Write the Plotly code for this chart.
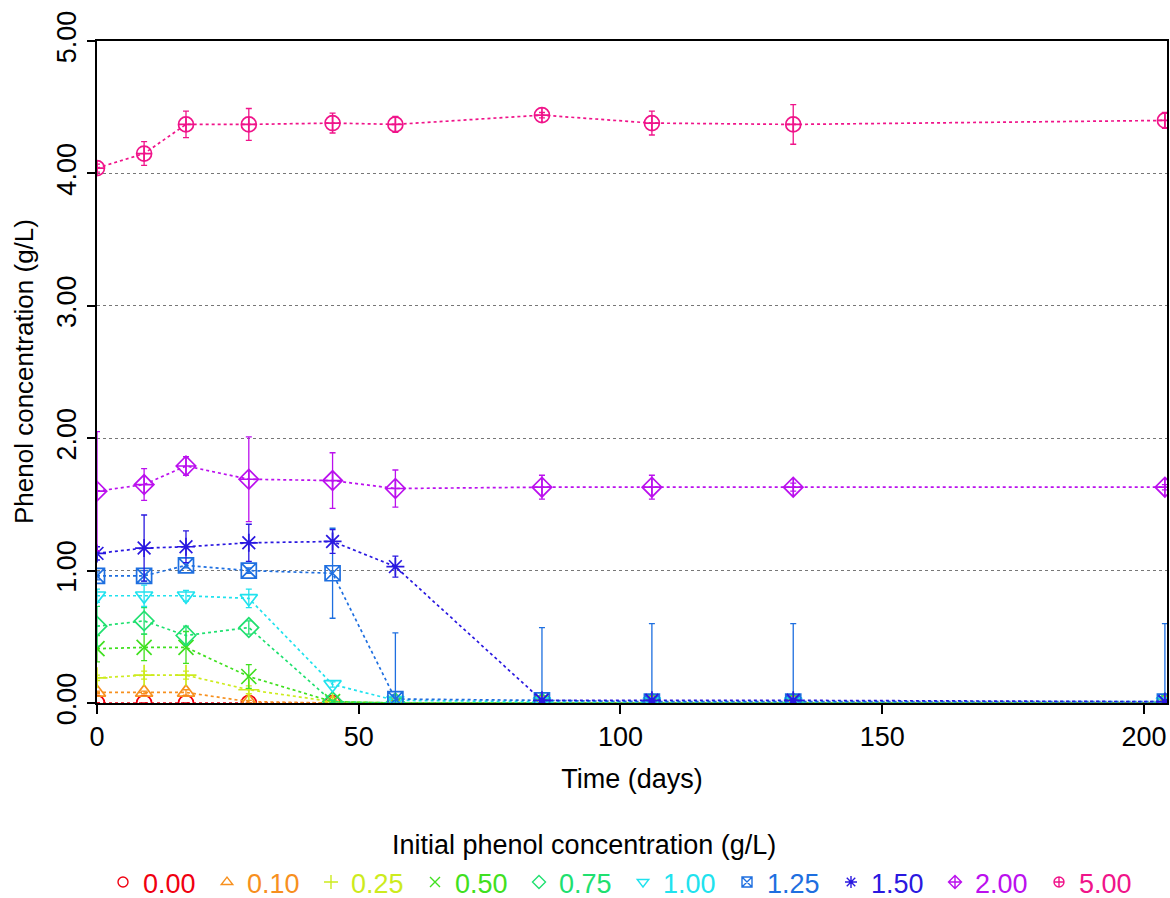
import plotly.graph_objects as go

times = [0, 9, 17, 29, 45, 57, 85, 106, 133, 204]

labels = ["0.00", "0.10", "0.25", "0.50", "0.75", "1.00", "1.25", "1.50", "2.00", "5.00"]

c000 = [0, 0, 0, 0, 0, 0, 0, 0, 0, 0]
c010 = [0.08, 0.08, 0.08, 0.01, 0, 0, 0, 0, 0, 0]
c025 = [0.19, 0.21, 0.21, 0.10, 0.01, 0, 0, 0, 0, 0]
c050 = [0.41, 0.42, 0.42, 0.20, 0.01, 0, 0, 0, 0, 0]
c075 = [0.58, 0.62, 0.51, 0.57, 0.01, 0, 0, 0, 0, 0]
c100 = [0.81, 0.81, 0.81, 0.79, 0.14, 0.02, 0.01, 0.01, 0.01, 0.01]
c125 = [0.96, 0.96, 1.04, 1.00, 0.98, 0.03, 0.02, 0.01, 0.01, 0.01]
c150 = [1.13, 1.17, 1.18, 1.21, 1.22, 1.03, 0.02, 0.02, 0.02, 0.01]
c200 = [1.60, 1.65, 1.79, 1.69, 1.68, 1.62, 1.63, 1.63, 1.63, 1.63]
c500 = [4.04, 4.15, 4.37, 4.37, 4.38, 4.37, 4.44, 4.38, 4.37, 4.40]

e000 = [0, 0, 0, 0, 0, 0, 0, 0, 0, 0]
e010 = [0.01, 0.01, 0.02, 0.01, 0, 0, 0, 0, 0, 0]
e025 = [0.02, 0.03, 0.03, 0.03, 0, 0, 0, 0, 0, 0]
e050 = [0.10, 0.10, 0.12, 0.09, 0.01, 0, 0, 0, 0, 0]
e075 = [0.15, 0.10, 0.07, 0.05, 0.01, 0, 0, 0, 0, 0]
e100 = [0.05, 0.08, 0.04, 0.07, 0.02, 0.01, 0, 0, 0, 0]
e125 = [0.03, 0.04, 0.02, 0.02, 0.34, 0.50, 0.55, 0.59, 0.59, 0.59]
e150 = [0.05, 0.25, 0.12, 0.14, 0.09, 0.08, 0.01, 0.01, 0.01, 0.01]
e200 = [0.45, 0.12, 0.07, 0.32, 0.21, 0.14, 0.09, 0.09, 0.03, 0.02]
e500 = [0.03, 0.09, 0.10, 0.12, 0.075, 0.06, 0.02, 0.09, 0.15, 0.06]

values = [c000, c010, c025, c050, c075, c100, c125, c150, c200, c500]
errors = [e000, e010, e025, e050, e075, e100, e125, e150, e200, e500]

colors = ["#F00010", "#F7901E", "#CDEB1E", "#40E020", "#20E070", "#20E2EE",
          "#1E6FE0", "#2A18E0", "#BB10EE", "#F0148A"]
symbols = ["circle-open", "triangle-up-open", "cross-thin-open", "x-thin-open",
           "diamond-open", "triangle-down-open", "square-x-open", "asterisk-open",
           "diamond-cross-open", "circle-cross-open"]

FONT = "Arial, Liberation Sans, sans-serif"

fig = go.Figure()

for lab, yv, ev, col, sym in zip(labels, values, errors, colors, symbols):
    fig.add_trace(go.Scatter(
        x=times, y=yv, mode="lines+markers", showlegend=False,
        line=dict(color=col, width=1.7, dash="dot"),
        marker=dict(symbol=sym, size=15, color=col, line=dict(color=col, width=1.7)),
        error_y=dict(type="data", array=ev, visible=True, color=col, thickness=1.3, width=3),
    ))

for lab, col, sym in zip(labels, colors, symbols):
    fig.add_trace(go.Scatter(
        x=[None], y=[None], mode="markers", showlegend=True,
        name=f'<span style="color:{col}">{lab}</span>',
        marker=dict(symbol=sym, size=10, color=col, line=dict(color=col, width=1.4)),
    ))

PL, PR, PT, PB = 97, 1167, 41, 703
PW, PH = PR - PL, PB - PT

fig.update_layout(
    width=1170, height=898,
    margin=dict(l=PL, r=1170 - PR, t=PT, b=898 - PB, autoexpand=False),
    paper_bgcolor="white", plot_bgcolor="white",
    font=dict(family=FONT, size=27, color="black"),
    xaxis=dict(
        range=[0, 204.4], tickvals=[0, 50, 100, 150, 200],
        ticks="outside", ticklen=9, tickwidth=1.5, tickcolor="black",
        showline=True, linecolor="black", linewidth=1.6, mirror=True,
        showgrid=False, zeroline=False, automargin=False,
        title=dict(text="Time (days)", font=dict(size=27), standoff=18),
        tickfont=dict(size=27),
    ),
    yaxis=dict(
        range=[0, 5], tickvals=[0, 1, 2, 3, 4, 5],
        ticktext=["0.00", "1.00", "2.00", "3.00", "4.00", "5.00"],
        tickangle=-90,
        ticks="outside", ticklen=8, tickwidth=1.5, tickcolor="black",
        showline=True, linecolor="black", linewidth=1.6, mirror=True,
        showgrid=True, gridcolor="#777777", griddash="dot", gridwidth=1.3,
        zeroline=False, automargin=False,
        tickfont=dict(size=27),
    ),
    legend=dict(
        orientation="h", x=(623 - PL) / PW, xanchor="center", y=-(858 - PB) / PH, yanchor="top",
        font=dict(size=27), itemsizing="trace", entrywidth=59, entrywidthmode="pixels",
        bgcolor="rgba(0,0,0,0)",
    ),
    annotations=[
        dict(
            text="Initial phenol concentration (g/L)",
            x=(584 - PL) / PW, xref="paper", y=-(845 - PB) / PH, yref="paper",
            xanchor="center", yanchor="middle", showarrow=False, font=dict(size=27),
        ),
        dict(
            text="Phenol concentration (g/L)", textangle=-90,
            x=(24 - PL) / PW, xref="paper", y=0.5, yref="paper",
            xanchor="center", yanchor="middle", showarrow=False, font=dict(size=26),
        ),
    ],
)

fig.write_html(
    "out.html",
    config={"displayModeBar": False},
    post_script="document.body.style.margin='0px';document.body.style.padding='0px';",
)
